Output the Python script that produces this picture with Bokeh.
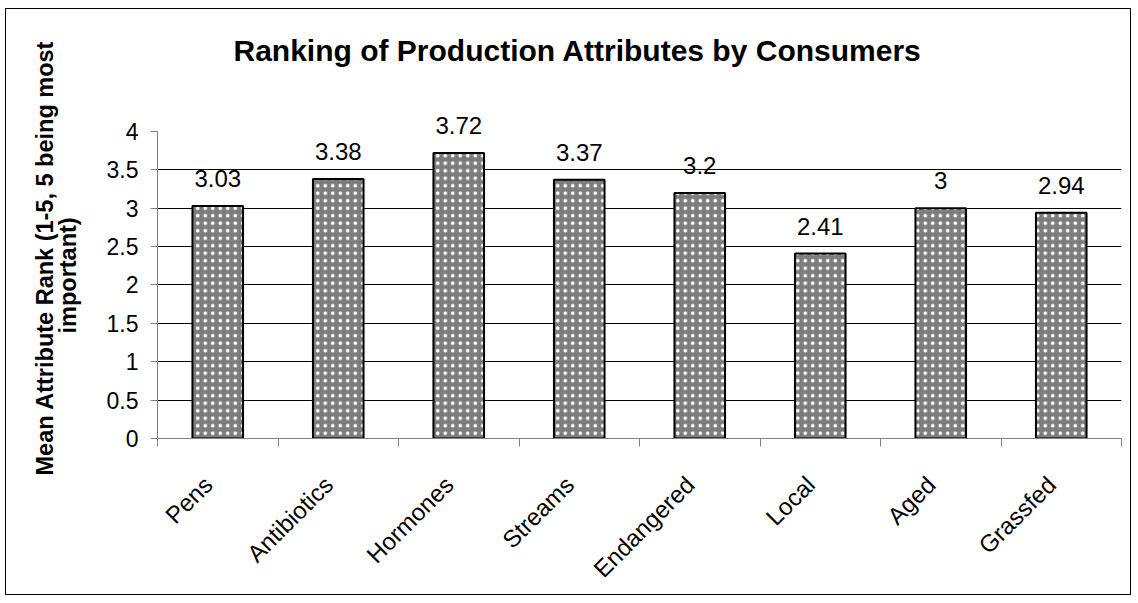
import math
from bokeh.plotting import figure
from bokeh.models import (FixedTicker, Range1d, ColumnDataSource, LabelSet, Title)
from bokeh.core.properties import value
from bokeh.embed import file_html
from bokeh.resources import INLINE

categories = ["Pens", "Antibiotics", "Hormones", "Streams", "Endangered", "Local", "Aged", "Grassfed"]
ranks = [3.03, 3.38, 3.72, 3.37, 3.2, 2.41, 3.0, 2.94]
y_ticks = [0, 0.5, 1, 1.5, 2, 2.5, 3, 3.5, 4]
y_tick_labels = ["0", "0.5", "1", "1.5", "2", "2.5", "3", "3.5", "4"]

FONT = "Liberation Sans"
n = len(categories)
centers = [i + 0.5 for i in range(n)]
label_pos = [i + 0.42 for i in range(n)]
bounds = [i for i in range(n + 1)]
y_max = y_ticks[-1]
y_top = y_max + 0.625

p = figure(width=1126, height=587, x_range=Range1d(0, n), y_range=Range1d(0, y_top),
           output_backend="svg", toolbar_location=None,
           min_border_left=151, min_border_right=11, min_border_top=74, min_border_bottom=158)
p.styles = {"border": "1.5px solid black", "margin-left": "5px", "margin-top": "8px"}
p.outline_line_color = None
p.background_fill_color = "white"
p.border_fill_color = "white"

p.title.text = "Ranking of Production Attributes by Consumers"
p.title.align = "left"
p.title.text_font = FONT
p.title.text_font_size = "30px"
p.title.text_font_style = "bold"
p.title.text_color = "black"
p.title.standoff = 33
p.title.offset = 76

src = ColumnDataSource(dict(x=centers, top=ranks, lab=[f"{v:g}" for v in ranks]))
p.vbar(x="x", top="top", width=0.42, source=src, fill_color="#7c7c7c", line_color="black",
       line_width=2, hatch_pattern="dot", hatch_color="white", hatch_scale=7.5, hatch_weight=1.6)

labels = LabelSet(x="x", y="top", text="lab", source=src, text_align="center",
                  text_baseline="alphabetic", y_offset=19, text_font=value(FONT),
                  text_font_size="24px", text_color="black")
p.add_layout(labels)

# x axis
xa = p.xaxis[0]
xa.ticker = FixedTicker(ticks=label_pos, minor_ticks=bounds)
xa.major_label_overrides = {c: nm for c, nm in zip(label_pos, categories)}
xa.major_tick_line_color = None
xa.minor_tick_line_color = "#808080"
xa.minor_tick_out = 8
xa.minor_tick_in = 0
xa.axis_line_color = "#808080"
xa.major_label_orientation = math.pi / 4
xa.major_label_text_font = FONT
xa.major_label_text_font_size = "24px"
xa.major_label_text_color = "black"
xa.major_label_standoff = 34

# y axis
ya = p.yaxis[0]
ya.ticker = FixedTicker(ticks=y_ticks, minor_ticks=[])
ya.bounds = (0, y_max)
ya.major_label_overrides = {t: l for t, l in zip(y_ticks, y_tick_labels)}
ya.major_tick_out = 7
ya.major_tick_in = 0
ya.major_tick_line_color = "#808080"
ya.axis_line_color = "#808080"
ya.major_label_text_font = FONT
ya.major_label_text_font_size = "23px"
ya.major_label_text_color = "black"
ya.major_label_standoff = 12

p.xgrid.grid_line_color = None
p.ygrid.ticker = FixedTicker(ticks=y_ticks[1:-1])
p.ygrid.grid_line_color = "black"
p.ygrid.grid_line_width = 1

for txt, off, so in [("important)", 105, 46), ("Mean Attribute Rank (1-5, 5 being most", -37, -56)]:
    t = Title(text=txt, align="left", text_font=FONT, text_font_size="23.5px",
              text_font_style="bold", text_color="black", standoff=so, offset=off)
    p.add_layout(t, "left")

open("out.html", "w").write(file_html(p, INLINE))
